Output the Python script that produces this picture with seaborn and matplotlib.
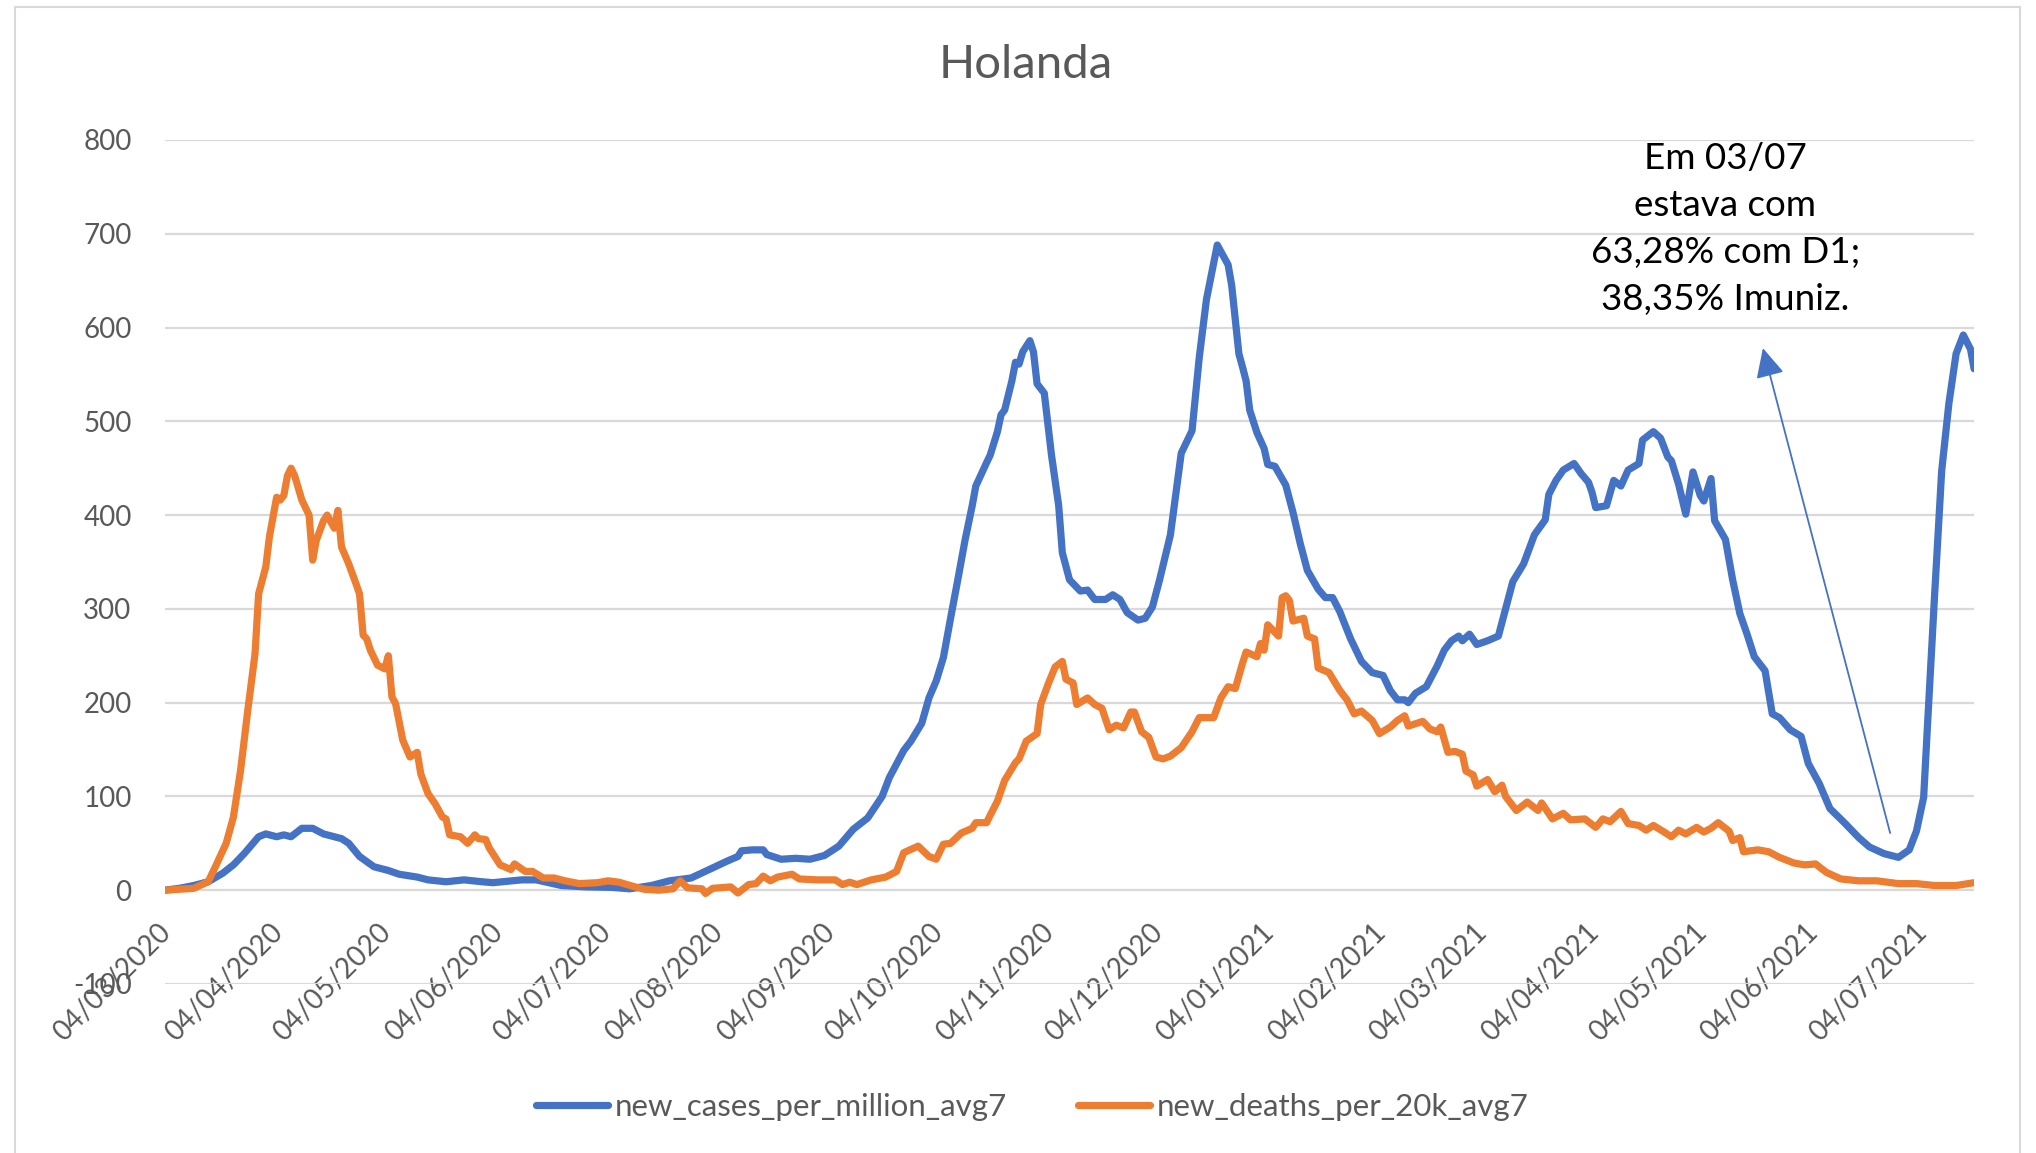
import pandas as pd
import seaborn as sns
import matplotlib.pyplot as plt
from matplotlib.patches import Rectangle
from matplotlib.transforms import ScaledTranslation

# Data (x = days since the first date)
start_date = "2020-03-04"

case_days = [
    0, 4, 8, 12, 16, 19, 22, 26, 28, 31,
    33, 35, 38, 41, 44, 49, 51, 54, 58, 62,
    65, 70, 73, 78, 83, 88, 91, 99, 103, 110,
    117, 124, 129, 135, 140, 146, 151, 156, 159, 160,
    163, 166, 167, 171, 175, 179, 183, 187, 191, 195,
    199, 201, 205, 207, 210, 212, 214, 216, 218, 220,
    222, 224, 225, 228, 229, 231, 232, 233, 235, 236,
    237, 238, 240, 241, 242, 244, 246, 248, 249, 251,
    254, 256, 258, 261, 263, 265, 267, 270, 272, 274,
    276, 279, 282, 285, 287, 289, 292, 293, 295, 296,
    298, 299, 300, 301, 303, 305, 306, 308, 311, 313,
    315, 317, 320, 322, 324, 326, 329, 332, 335, 338,
    340, 342, 344, 345, 347, 350, 353, 355, 357, 359,
    360, 362, 364, 367, 370, 372, 374, 377, 380, 383,
    384, 386, 388, 391, 393, 395, 396, 397, 400, 402,
    404, 406, 409, 410, 413, 415, 417, 418, 420, 422,
    424, 426, 427, 429, 430, 433, 435, 437, 439, 441,
    444, 446, 448, 451, 454, 456, 459, 462, 466, 470,
    473, 477, 481, 484, 486, 488, 489, 491, 493, 495,
    497, 499, 501, 502]
case_values = [
    0, 2, 5, 9, 18, 27, 39, 57, 60, 57,
    59, 57, 66, 66, 60, 55, 50, 36, 25, 21,
    17, 14, 11, 9, 11, 9, 8, 11, 11, 5,
    3.5, 3, 1.5, 5, 10, 13, 22, 31, 36, 42,
    43, 43, 38, 33, 34, 33, 37, 47, 65, 77,
    100, 120, 149, 159, 178, 205, 223, 248, 290, 331,
    373, 410, 431, 456, 464, 489, 507, 512, 543, 563,
    561, 574, 586, 574, 540, 530, 464, 410, 360, 331,
    319, 320, 310, 310, 315, 310, 296, 288, 290, 302,
    331, 379, 466, 490, 568, 630, 688, 681, 667, 645,
    572, 558, 543, 512, 488, 471, 454, 452, 432, 403,
    370, 341, 321, 312, 312, 297, 268, 244, 232, 229,
    213, 203, 203, 200, 210, 217, 239, 256, 266, 271,
    266, 273, 262, 266, 271, 300, 329, 348, 379, 395,
    422, 437, 448, 455, 444, 435, 424, 408, 410, 437,
    431, 448, 455, 480, 489, 482, 462, 458, 433, 401,
    446, 421, 415, 439, 394, 374, 331, 295, 273, 249,
    234, 188, 184, 171, 164, 135, 114, 87, 72, 56,
    46, 39, 35, 43, 63, 99, 171, 312, 447, 519,
    572, 592, 577, 556]

death_days = [
    0, 8, 12, 14, 17, 19, 21, 23, 25, 26,
    28, 29, 31, 32, 33, 34, 35, 36, 38, 40,
    41, 42, 44, 45, 47, 48, 49, 51, 53, 54,
    55, 56, 57, 59, 61, 62, 63, 64, 66, 68,
    70, 71, 73, 75, 77, 78, 79, 82, 84, 86,
    87, 89, 90, 93, 96, 97, 100, 102, 105, 108,
    111, 115, 120, 123, 126, 130, 133, 137, 141, 143,
    145, 149, 150, 152, 157, 159, 162, 164, 166, 168,
    170, 174, 176, 181, 186, 188, 190, 192, 196, 200,
    203, 205, 209, 212, 214, 216, 218, 221, 224, 225,
    228, 229, 231, 233, 236, 237, 239, 242, 243, 245,
    247, 249, 250, 252, 253, 256, 258, 260, 262, 264,
    266, 268, 269, 271, 273, 275, 277, 279, 282, 285,
    287, 291, 293, 295, 297, 299, 300, 303, 304, 305,
    306, 309, 310, 311, 312, 313, 316, 317, 319, 320,
    323, 326, 328, 330, 332, 335, 337, 340, 342, 344,
    345, 349, 351, 353, 354, 356, 358, 360, 361, 363,
    364, 367, 369, 371, 372, 375, 378, 381, 382, 385,
    388, 390, 394, 397, 399, 401, 404, 406, 409, 411,
    413, 416, 418, 420, 422, 425, 427, 429, 431, 434,
    435, 437, 438, 442, 445, 448, 452, 455, 458, 461,
    465, 470, 475, 481, 486, 491, 497, 502]
death_values = [
    0, 2, 9, 25, 50, 78, 128, 192, 252, 316,
    345, 377, 419, 416, 421, 442, 450, 442, 416, 400,
    352, 373, 394, 400, 386, 405, 366, 348, 327, 316,
    272, 268, 256, 240, 236, 250, 206, 199, 160, 142,
    147, 124, 103, 92, 78, 76, 59, 57, 50, 59,
    55, 54, 45, 27, 22, 28, 20, 20, 13, 13,
    10, 7, 8, 10, 8.5, 4, 1, 0, 1.5, 10,
    2.5, 1.5, -3.5, 2, 3.5, -3, 6, 7, 15, 10,
    14, 17, 12, 11, 11, 6, 8.5, 6, 11, 14,
    20, 40, 47, 36, 33, 49, 50, 61, 66, 72,
    72, 80, 95, 117, 136, 140, 159, 167, 198, 219,
    238, 244, 225, 221, 198, 205, 198, 194, 171, 176,
    173, 190, 190, 169, 163, 142, 140, 143, 152, 169,
    184, 184, 205, 217, 215, 242, 254, 249, 263, 256,
    283, 271, 312, 314, 309, 287, 290, 271, 268, 237,
    232, 213, 203, 188, 191, 181, 167, 174, 181, 186,
    175, 180, 172, 169, 174, 147, 148, 145, 127, 123,
    111, 118, 105, 112, 100, 85, 94, 85, 93, 76,
    82, 75, 76, 67, 76, 73, 84, 71, 69, 64,
    69, 62, 57, 64, 60, 67, 62, 66, 72, 63,
    53, 56, 41, 43, 41, 35, 29, 27, 28, 19,
    12, 10, 10, 7, 7, 5, 5, 8]

series_names = ["new_cases_per_million_avg7", "new_deaths_per_20k_avg7"]
series_colors = ["#4472C4", "#ED7D31"]

tick_dates = ["2020-03-04", "2020-04-04", "2020-05-04", "2020-06-04", "2020-07-04",
              "2020-08-04", "2020-09-04", "2020-10-04", "2020-11-04", "2020-12-04",
              "2021-01-04", "2021-02-04", "2021-03-04", "2021-04-04", "2021-05-04",
              "2021-06-04", "2021-07-04"]
y_ticks = [-100, 0, 100, 200, 300, 400, 500, 600, 700, 800]

note_text = "Em 03/07\nestava com\n63,28% com D1;\n38,35% Imuniz."

# Build a long DataFrame for seaborn
t0 = pd.Timestamp(start_date)
cases = pd.DataFrame({"date": t0 + pd.to_timedelta(case_days, unit="D"),
                      "value": case_values, "serie": series_names[0]})
deaths = pd.DataFrame({"date": t0 + pd.to_timedelta(death_days, unit="D"),
                       "value": death_values, "serie": series_names[1]})
df = pd.concat([cases, deaths], ignore_index=True)

sns.set_style("white")
plt.rcParams["font.family"] = ["Lato", "DejaVu Sans"]
plt.rcParams["axes.unicode_minus"] = False

grey = "#595959"
lw = 5.2

fig = plt.figure(figsize=(20.36, 11.53), dpi=100)
ax = fig.add_axes([0.081, 0.1466, 0.8886, 0.732])

sns.lineplot(data=df, x="date", y="value", hue="serie",
             palette=dict(zip(series_names, series_colors)),
             estimator=None, linewidth=lw, ax=ax, legend=False)
for line in ax.get_lines():
    line.set_solid_joinstyle("round")
    line.set_solid_capstyle("round")

# Axes limits, ticks, grid
ax.set_xlim(t0, t0 + pd.Timedelta(days=max(case_days)))
ax.set_ylim(-100, 800)
ax.set_yticks(y_ticks)
ticks = pd.to_datetime(tick_dates)
ax.set_xticks(ticks)
ax.set_xticklabels([d.strftime("%d/%m/%Y") for d in ticks])
ax.set_xlabel("")
ax.set_ylabel("")

ax.yaxis.grid(True, color="#D9D9D9", linewidth=1.6)
ax.xaxis.grid(False)
ax.set_axisbelow(True)
for s in ax.spines.values():
    s.set_visible(False)
ax.spines["bottom"].set_position(("data", 0))

ax.tick_params(axis="y", length=0, pad=24, labelsize=20, labelcolor=grey)
ax.tick_params(axis="x", length=0, pad=21, labelsize=20, labelcolor=grey)
shift = ScaledTranslation(-5 / 72, 0, fig.dpi_scale_trans)
for lab in ax.get_xticklabels():
    lab.set_rotation(45)
    lab.set_ha("right")
    lab.set_va("top")
    lab.set_rotation_mode("anchor")
    lab.set_transform(lab.get_transform() + shift)

# Title
fig.text(0.504, 0.944, "Holanda", ha="center", va="center", fontsize=34, color=grey)

# Annotation with arrow
ax.annotate("", xy=(t0 + pd.Timedelta(days=443.4), 578),
            xytext=(t0 + pd.Timedelta(days=478.7), 61),
            arrowprops=dict(arrowstyle="-|>,head_length=0.45,head_width=0.22",
                            color="#4472C4", lw=1.3, mutation_scale=40,
                            shrinkA=0, shrinkB=0))
ax.text(t0 + pd.Timedelta(days=433), 705, note_text, ha="center", va="center",
        fontsize=26.5, color="black", linespacing=1.52)

# Legend at the bottom
handles = [plt.Line2D([], [], color=c, linewidth=lw, solid_capstyle="round")
           for c in series_colors]
leg = fig.legend(handles, series_names, loc="center", bbox_to_anchor=(0.507, 0.04),
                 ncol=2, frameon=False, fontsize=22.5, handlelength=2.3,
                 handletextpad=0.2, columnspacing=2.3)
for t in leg.get_texts():
    t.set_color(grey)

# Light chart-area border as in the spreadsheet export
fig.add_artist(Rectangle((15 / 2036, -0.05), (2020 - 15) / 2036, 1.05 - 6.5 / 1153,
                         transform=fig.transFigure, fill=False,
                         edgecolor="#D9D9D9", linewidth=1.5))

plt.savefig("out.png", dpi=100)
